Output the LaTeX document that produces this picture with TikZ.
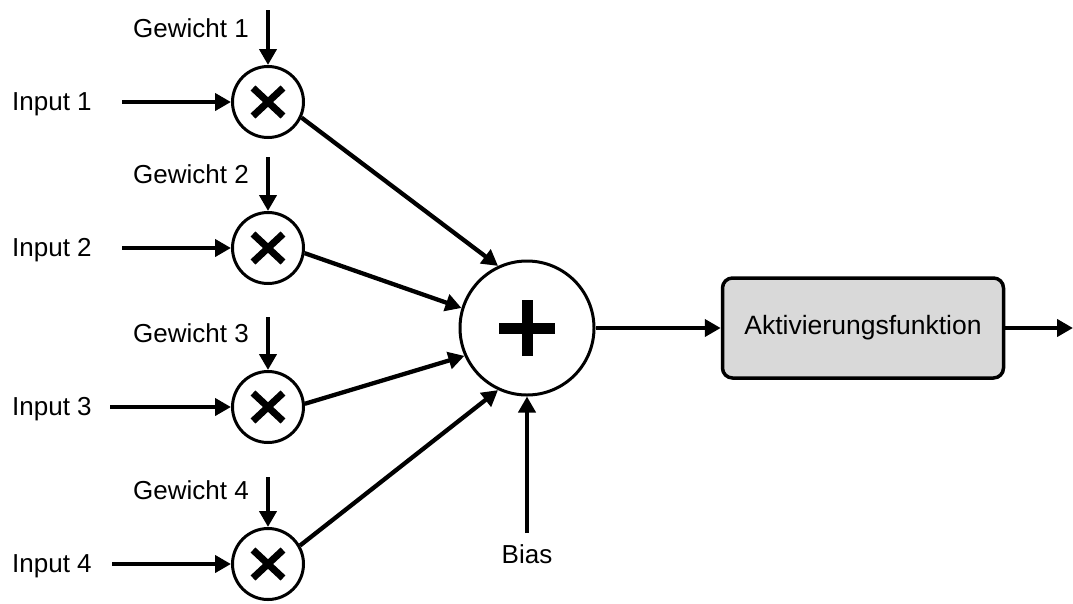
\documentclass[tikz,border=0pt]{standalone}
\usepackage{fontspec}
\setmainfont{Liberation Sans}
\usetikzlibrary{arrows.meta}
\begin{document}
\begin{tikzpicture}[x=1pt,y=-1pt,
  lbl/.style={font=\fontsize{26}{30}\selectfont, inner sep=0pt},
  arr/.style={line width=4.3pt, -{Triangle[length=16pt,width=17pt]}},
  mult/.style={circle, draw, line width=3pt, minimum size=71pt, inner sep=0pt, fill=white,
    path picture={
      \draw[line width=7pt] (path picture bounding box.center) ++(-15pt,-14pt) -- ++(30pt,28pt);
      \draw[line width=7pt] (path picture bounding box.center) ++(-15pt,14pt) -- ++(30pt,-28pt);
    }},
  summ/.style={circle, draw, line width=3pt, minimum size=134pt, inner sep=0pt, fill=white,
    path picture={
      \draw[line width=11pt] (path picture bounding box.center) ++(-28pt,0pt) -- ++(56pt,0pt);
      \draw[line width=11pt] (path picture bounding box.center) ++(0pt,-28pt) -- ++(0pt,56pt);
    }},
  actbox/.style={draw, line width=3.5pt, rounded corners=10pt, fill=black!15,
    minimum width=281pt, minimum height=100pt, inner sep=0pt, font=\fontsize{26.5}{30}\selectfont}
]
\useasboundingbox (0,0) rectangle (1073,603);

% multiplication nodes
\node[mult] (m1) at (268,102) {};
\node[mult] (m2) at (268,248) {};
\node[mult] (m3) at (268,407) {};
\node[mult] (m4) at (268,564) {};

% sum and activation
\node[summ] (sum) at (527,328) {};
\node[actbox] (act) at (863,328) {Aktivierungsfunktion};
\coordinate (out) at (1073,328);

% input labels
\node[lbl, anchor=base west] (i1) at (12,110) {Input 1};
\node[lbl, anchor=base west] (i2) at (12,256) {Input 2};
\node[lbl, anchor=base west] (i3) at (12,415) {Input 3};
\node[lbl, anchor=base west] (i4) at (12,572) {Input 4};
\coordinate (is1) at (122,102);
\coordinate (is2) at (122,248);
\coordinate (is3) at (110,407);
\coordinate (is4) at (112,564);

% weight labels
\node[lbl, anchor=base east] (g1) at (249,37) {Gewicht 1};
\node[lbl, anchor=base east] (g2) at (249,183) {Gewicht 2};
\node[lbl, anchor=base east] (g3) at (249,342) {Gewicht 3};
\node[lbl, anchor=base east] (g4) at (249,499) {Gewicht 4};
\coordinate (gs1) at (268,10);
\coordinate (gs2) at (268,157);
\coordinate (gs3) at (268,317);
\coordinate (gs4) at (268,477);

% bias
\node[lbl, anchor=base] (bias) at (527,563) {Bias};
\coordinate (bs) at (527,533);

% arrows
\draw[arr] (is1) -- (m1.west);
\draw[arr] (is2) -- (m2.west);
\draw[arr] (is3) -- (m3.west);
\draw[arr] (is4) -- (m4.west);
\draw[arr] (gs1) -- (m1.north);
\draw[arr] (gs2) -- (m2.north);
\draw[arr] (gs3) -- (m3.north);
\draw[arr] (gs4) -- (m4.north);

\draw[arr] (m1.-25) -- (sum.115);
\draw[arr] (m2.-8) -- (sum.163);
\draw[arr] (m3.5) -- (sum.204);
\draw[arr] (m4.30) -- (sum.245);

\draw[arr] (bs) -- (sum.south);
\draw[arr] (sum.east) -- (act.west);
\draw[arr] (act.east) -- (out);
\end{tikzpicture}
\end{document}
